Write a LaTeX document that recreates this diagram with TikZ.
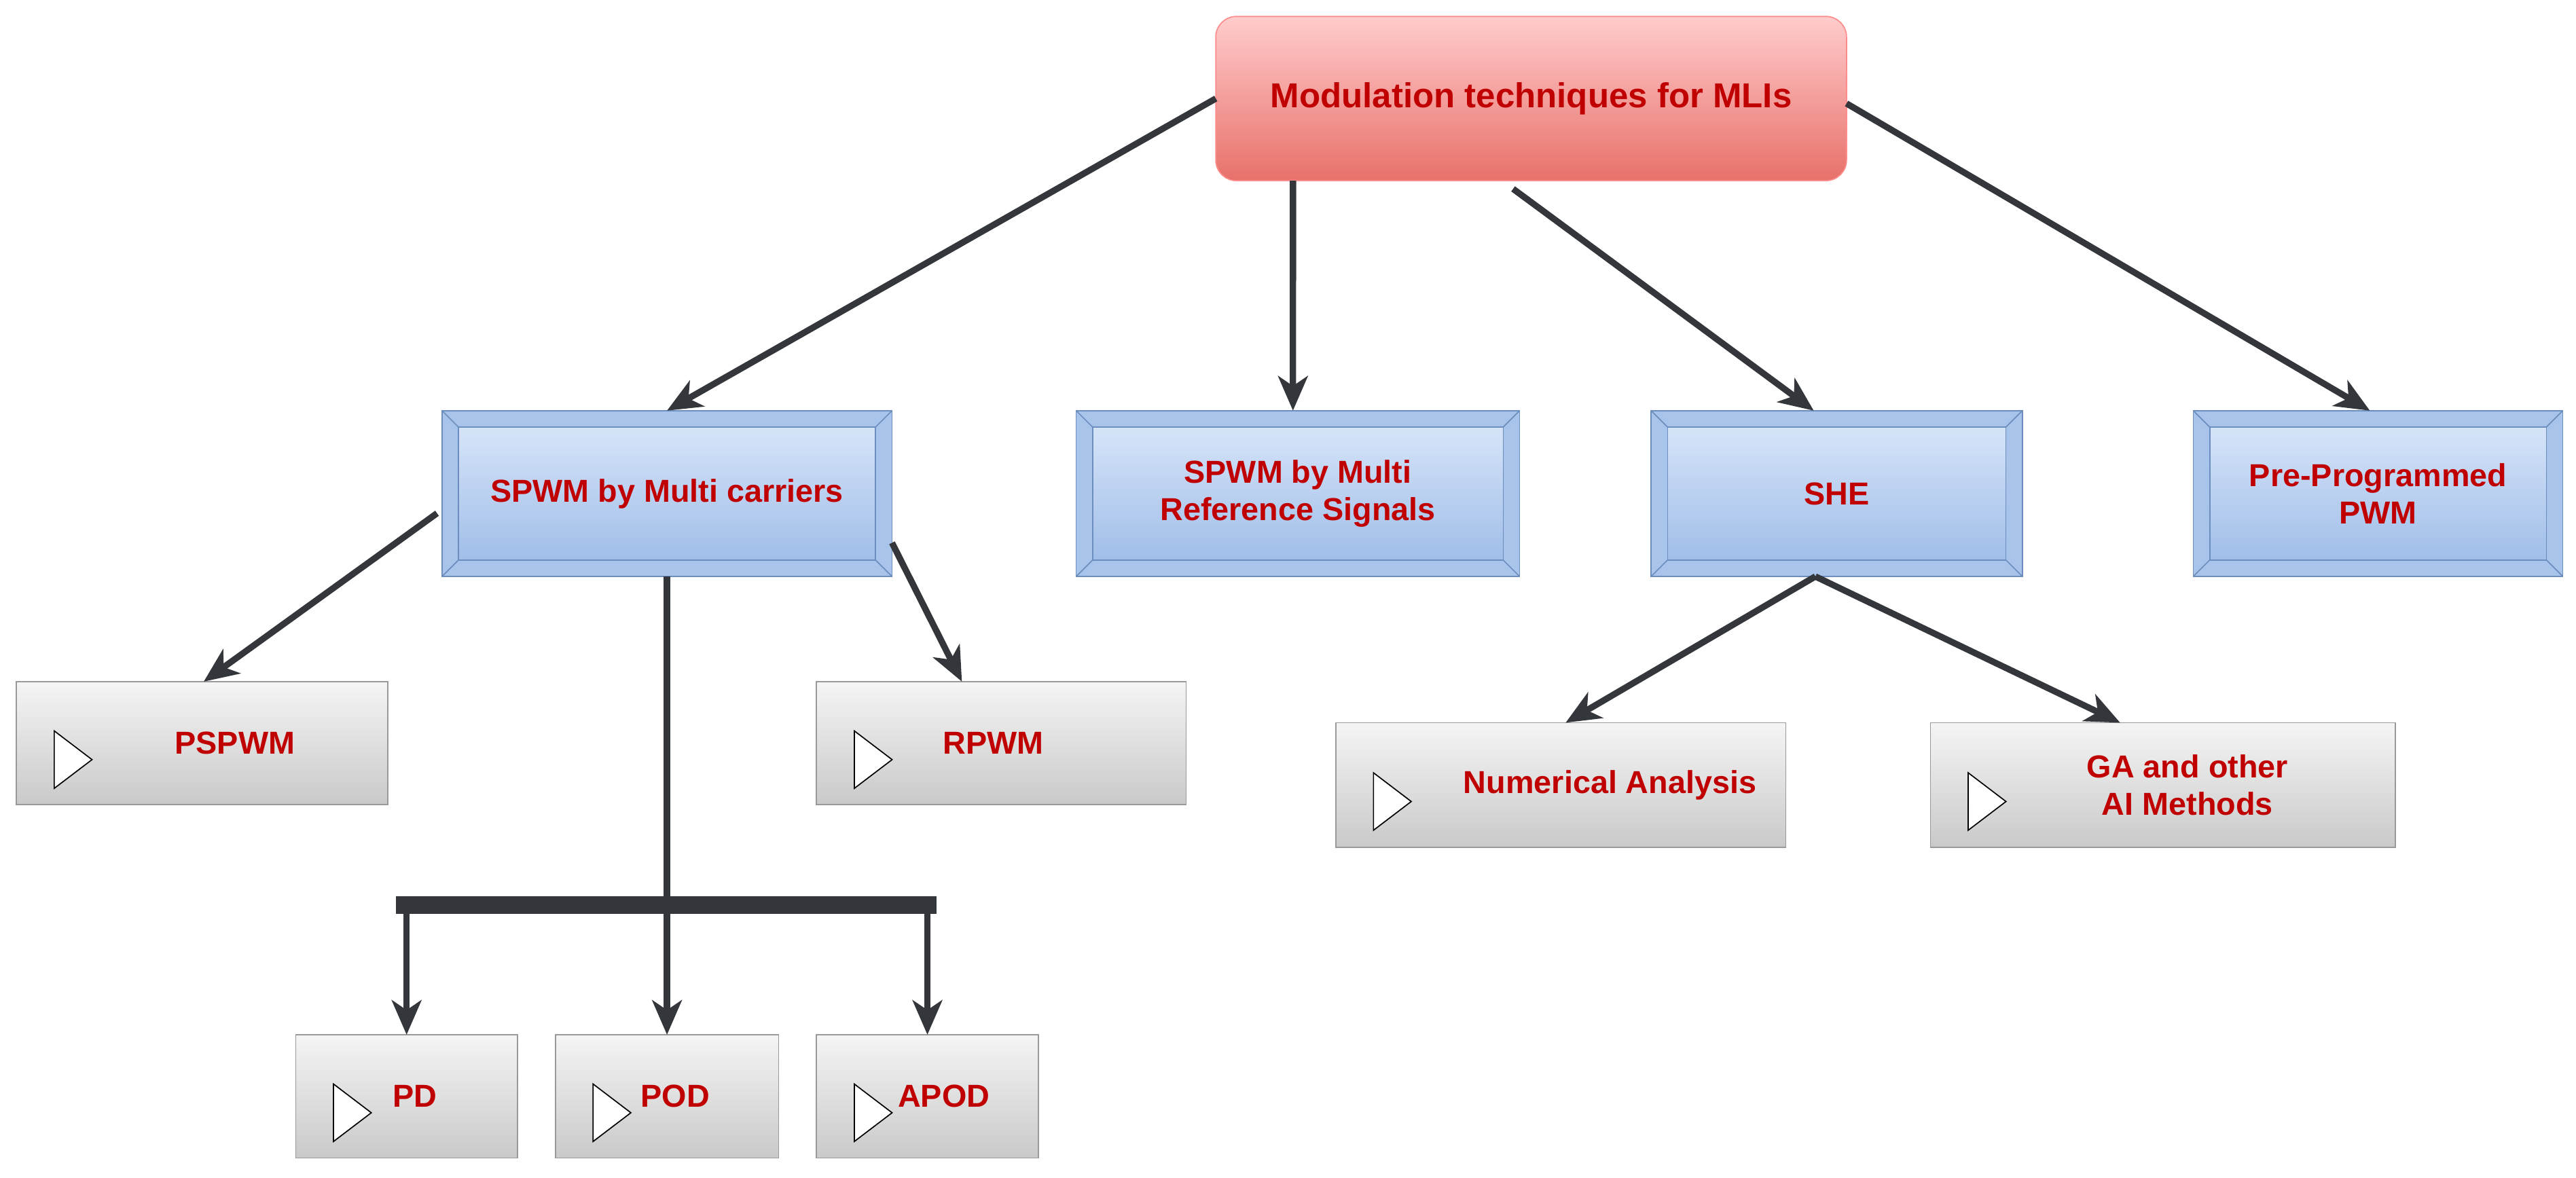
\documentclass[tikz,border=0pt]{standalone}
\usepackage{fontspec}
\setmainfont{Liberation Sans}
\usetikzlibrary{arrows.meta,calc}
\definecolor{txt}{HTML}{C00000}
\definecolor{ln}{HTML}{33363B}
\definecolor{bevelc}{HTML}{6C8EBF}
\begin{document}
\begin{tikzpicture}[x=0.02cm,y=-0.02cm,
  every node/.style={inner sep=0pt,outer sep=0pt,font=\bfseries\fontsize{11}{13}\selectfont,text=txt,align=center},
  topbox/.style={draw=red!45!white,rounded corners=0.25cm,top color=red!20!white,bottom color={rgb,255:red,232;green,112;blue,106},minimum width=7.68cm,minimum height=2cm,font=\bfseries\fontsize{12}{14}\selectfont},
  bevel/.style={draw=bevelc,fill={rgb,255:red,169;green,196;blue,235},
    path picture={
      \coordinate (nw) at (path picture bounding box.north west);
      \coordinate (se) at (path picture bounding box.south east);
      \coordinate (ne) at (path picture bounding box.north east);
      \coordinate (sw) at (path picture bounding box.south west);
      \draw[bevelc,top color={rgb,255:red,214;green,228;blue,248},bottom color={rgb,255:red,160;green,190;blue,233}]
        ($(nw)+(0.2cm,-0.2cm)$) rectangle ($(se)+(-0.2cm,0.2cm)$);
      \draw[bevelc] (nw)--($(nw)+(0.2cm,-0.2cm)$) (ne)--($(ne)+(-0.2cm,-0.2cm)$)
        (sw)--($(sw)+(0.2cm,0.2cm)$) (se)--($(se)+(-0.2cm,0.2cm)$);
    }},
  gbox/.style={draw=gray!80,top color=gray!8,bottom color=gray!42,
    path picture={
      \draw[black,fill=white] ($(path picture bounding box.west)+(0.46cm,0.15cm)$) -- ++(0.46cm,-0.35cm) -- ++(-0.46cm,-0.35cm) -- cycle;
    }},
  arr/.style={ln,line width=2.2pt,-{Stealth[length=0.42cm,width=0.36cm,inset=0.12cm]}}
]
\useasboundingbox (0,0) rectangle (1568,717);
\node[topbox] (top) at (932,60) {Modulation techniques for MLIs};
\node[bevel,minimum width=5.48cm,minimum height=2.02cm] (mc) at (406,300.5) {SPWM by Multi carriers};
\node[bevel,minimum width=5.4cm,minimum height=2.02cm] (ref) at (790,300.5) {SPWM by Multi\\Reference Signals};
\node[bevel,minimum width=4.52cm,minimum height=2.02cm] (she) at (1118,300.5) {SHE};
\node[bevel,minimum width=4.5cm,minimum height=2.02cm] (pre) at (1447.5,300.5) {Pre-Programmed\\PWM};
\node[gbox,minimum width=4.52cm,minimum height=1.5cm,label={[xshift=0.4cm]center:PSPWM}] (pspwm) at (123,452.5) {};
\node[gbox,minimum width=4.5cm,minimum height=1.5cm,label={[xshift=-0.1cm]center:RPWM}] (rpwm) at (609.5,452.5) {};
\node[gbox,minimum width=5.48cm,minimum height=1.52cm,label={[xshift=0.6cm]center:Numerical Analysis}] (num) at (950,478) {};
\node[gbox,minimum width=5.66cm,minimum height=1.52cm,label={[xshift=0.3cm,align=center]center:GA and other\\AI Methods}] (ga) at (1316.5,478) {};
\node[gbox,minimum width=2.7cm,minimum height=1.5cm,label={[xshift=0.1cm]center:PD}] (pd) at (247.5,667.5) {};
\node[gbox,minimum width=2.72cm,minimum height=1.5cm,label={[xshift=0.1cm]center:POD}] (pod) at (406,667.5) {};
\node[gbox,minimum width=2.7cm,minimum height=1.5cm,label={[xshift=0.2cm]center:APOD}] (apod) at (564.5,667.5) {};
\coordinate (bar) at (406,551);
\coordinate (bl) at (241,551);
\coordinate (br) at (570,551);
% connectors
\draw[arr] (top.west) -- (mc.north);
\draw[arr] ([xshift=0.94cm]top.south west) -- ([xshift=-0.06cm]ref.north);
\draw[arr] ([xshift=-0.22cm,yshift=-0.1cm]top.south) -- ([xshift=-0.28cm]she.north);
\draw[arr] ([yshift=-0.06cm]top.east) -- ([xshift=-0.1cm]pre.north);
\draw[arr] ([xshift=-0.06cm,yshift=-0.24cm]mc.west) -- ([xshift=0.02cm]pspwm.north);
\draw[arr] ([yshift=-0.6cm]mc.east) -- ([xshift=-0.48cm]rpwm.north);
\draw[ln,line width=2.2pt] (mc.south) -- (bar);
\draw[ln,line width=6pt] (bl) -- (br);
\draw[arr] (pd.north |- bar) -- (pd.north);
\draw[arr] (bar) -- (pod.north);
\draw[arr] (apod.north |- bar) -- (apod.north);
\draw[arr] ([xshift=-0.26cm]she.south) -- ([xshift=0.06cm]num.north);
\draw[arr] ([xshift=-0.26cm]she.south) -- ([xshift=-0.52cm]ga.north);
\end{tikzpicture}
\end{document}
